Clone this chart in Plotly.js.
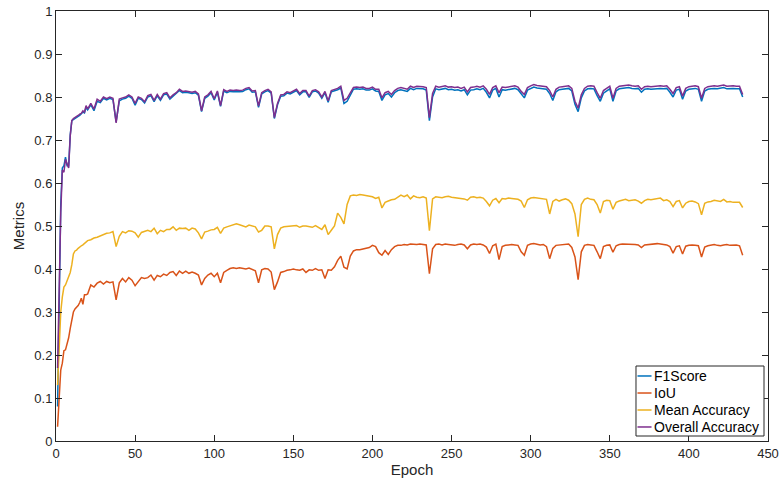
<!DOCTYPE html>
<html>
<head>
<meta charset="utf-8">
<script src="https://cdn.plot.ly/plotly-3.0.1.min.js"></script>
<style>html,body{margin:0;padding:0;background:#fff;}#chart{width:784px;height:486px;}</style>
</head>
<body>
<div id="chart"></div>
<script>
// Epoch indices: every epoch for 1..20, then every second epoch up to 434
const epochs = [];
for (let e = 1; e <= 20; e++) epochs.push(e);
for (let e = 22; e <= 434; e += 2) epochs.push(e);

const f1Score = [
0.08,0.33,0.55,0.635,0.64,0.66,0.64,0.64,0.712,0.745,0.748,0.75,0.753,0.755,0.757,0.76,0.765,0.763,0.776,0.77,
0.782,0.768,0.79,0.787,0.797,0.793,0.797,0.794,0.742,0.791,0.795,0.797,0.802,0.797,0.781,0.797,0.794,0.786,0.8,0.803,
0.789,0.803,0.792,0.805,0.807,0.795,0.802,0.807,0.815,0.81,0.811,0.81,0.808,0.81,0.804,0.766,0.797,0.802,0.81,0.793,
0.811,0.778,0.814,0.81,0.813,0.812,0.813,0.812,0.813,0.817,0.819,0.811,0.812,0.776,0.807,0.812,0.815,0.809,0.75,0.782,
0.802,0.803,0.809,0.807,0.811,0.815,0.805,0.812,0.812,0.799,0.812,0.814,0.809,0.797,0.81,0.788,0.812,0.814,0.817,0.821,
0.785,0.79,0.805,0.818,0.819,0.818,0.819,0.816,0.816,0.819,0.814,0.813,0.792,0.805,0.808,0.8,0.81,0.815,0.817,0.815,
0.813,0.82,0.817,0.82,0.82,0.819,0.816,0.745,0.8,0.819,0.817,0.818,0.82,0.817,0.818,0.816,0.817,0.814,0.817,0.805,
0.816,0.817,0.819,0.817,0.82,0.811,0.798,0.816,0.82,0.8,0.817,0.816,0.817,0.819,0.82,0.817,0.806,0.798,0.816,0.82,
0.823,0.821,0.82,0.819,0.818,0.808,0.792,0.812,0.817,0.818,0.819,0.82,0.814,0.783,0.766,0.798,0.814,0.819,0.82,0.819,
0.803,0.79,0.809,0.814,0.819,0.79,0.814,0.819,0.82,0.821,0.822,0.82,0.819,0.82,0.811,0.818,0.819,0.818,0.819,0.82,
0.82,0.819,0.82,0.811,0.8,0.816,0.818,0.795,0.814,0.818,0.819,0.82,0.818,0.79,0.814,0.818,0.819,0.82,0.819,0.821,
0.822,0.819,0.82,0.82,0.819,0.819,0.8];

const iou = [
0.033,0.1,0.165,0.181,0.21,0.212,0.225,0.24,0.262,0.285,0.3,0.307,0.31,0.315,0.322,0.332,0.318,0.34,0.34,0.342,
0.363,0.358,0.367,0.371,0.365,0.371,0.368,0.37,0.328,0.368,0.378,0.37,0.38,0.374,0.361,0.372,0.38,0.378,0.38,0.386,
0.374,0.385,0.382,0.388,0.385,0.392,0.394,0.385,0.395,0.39,0.395,0.39,0.393,0.39,0.386,0.363,0.378,0.386,0.39,0.382,
0.39,0.368,0.392,0.397,0.401,0.403,0.401,0.403,0.401,0.4,0.402,0.399,0.396,0.368,0.398,0.401,0.4,0.393,0.352,0.37,
0.392,0.394,0.397,0.398,0.4,0.398,0.397,0.4,0.392,0.398,0.397,0.401,0.397,0.398,0.378,0.398,0.397,0.405,0.42,0.43,
0.404,0.4,0.43,0.442,0.445,0.445,0.447,0.449,0.45,0.455,0.452,0.438,0.432,0.443,0.434,0.445,0.452,0.455,0.455,0.457,
0.456,0.458,0.457,0.457,0.458,0.457,0.456,0.389,0.447,0.457,0.458,0.456,0.458,0.457,0.456,0.455,0.457,0.458,0.456,0.447,
0.456,0.458,0.457,0.458,0.456,0.451,0.436,0.454,0.458,0.422,0.452,0.455,0.456,0.457,0.456,0.455,0.44,0.432,0.455,0.458,
0.459,0.458,0.456,0.457,0.452,0.424,0.448,0.455,0.456,0.457,0.457,0.458,0.45,0.428,0.375,0.44,0.455,0.457,0.456,0.455,
0.44,0.424,0.452,0.455,0.456,0.439,0.454,0.457,0.458,0.458,0.457,0.458,0.457,0.456,0.45,0.456,0.457,0.457,0.458,0.459,
0.458,0.457,0.456,0.452,0.437,0.452,0.454,0.435,0.453,0.455,0.456,0.455,0.454,0.428,0.451,0.454,0.456,0.457,0.455,0.454,
0.456,0.457,0.455,0.455,0.456,0.454,0.432];

const meanAccuracy = [
0.13,0.21,0.3,0.335,0.358,0.363,0.372,0.382,0.392,0.41,0.435,0.442,0.444,0.448,0.452,0.454,0.456,0.46,0.463,0.466,
0.468,0.472,0.474,0.477,0.479,0.483,0.484,0.487,0.452,0.476,0.487,0.484,0.489,0.488,0.484,0.474,0.485,0.487,0.49,0.487,
0.495,0.482,0.49,0.487,0.492,0.492,0.498,0.49,0.495,0.494,0.495,0.49,0.495,0.493,0.484,0.47,0.486,0.488,0.491,0.492,
0.497,0.483,0.495,0.498,0.5,0.502,0.505,0.503,0.5,0.498,0.502,0.5,0.498,0.486,0.49,0.5,0.5,0.498,0.447,0.48,
0.495,0.498,0.499,0.5,0.5,0.501,0.497,0.5,0.5,0.498,0.497,0.501,0.497,0.492,0.503,0.48,0.49,0.5,0.53,0.52,
0.505,0.55,0.57,0.572,0.571,0.573,0.572,0.571,0.57,0.568,0.564,0.567,0.542,0.555,0.558,0.561,0.562,0.567,0.572,0.568,
0.572,0.563,0.57,0.567,0.566,0.568,0.565,0.489,0.563,0.568,0.567,0.566,0.568,0.569,0.567,0.566,0.565,0.565,0.563,0.56,
0.567,0.568,0.566,0.567,0.565,0.557,0.547,0.56,0.564,0.554,0.564,0.563,0.565,0.564,0.563,0.562,0.558,0.543,0.561,0.565,
0.566,0.565,0.564,0.563,0.562,0.528,0.557,0.562,0.558,0.561,0.563,0.56,0.552,0.528,0.475,0.55,0.562,0.565,0.562,0.561,
0.55,0.53,0.557,0.56,0.559,0.539,0.555,0.558,0.56,0.562,0.559,0.56,0.561,0.558,0.553,0.559,0.562,0.561,0.562,0.563,
0.565,0.559,0.561,0.557,0.545,0.557,0.559,0.542,0.553,0.557,0.558,0.556,0.552,0.526,0.553,0.556,0.557,0.56,0.558,0.557,
0.562,0.556,0.557,0.555,0.555,0.555,0.543];

const overallAccuracy = [
0.17,0.36,0.53,0.63,0.625,0.655,0.645,0.635,0.71,0.745,0.75,0.752,0.755,0.757,0.76,0.762,0.768,0.765,0.78,0.772,
0.785,0.772,0.795,0.79,0.8,0.796,0.8,0.797,0.74,0.795,0.798,0.8,0.805,0.8,0.785,0.8,0.797,0.789,0.803,0.806,
0.792,0.806,0.795,0.808,0.81,0.798,0.805,0.81,0.818,0.813,0.814,0.813,0.811,0.813,0.807,0.768,0.8,0.805,0.813,0.796,
0.814,0.78,0.817,0.813,0.816,0.815,0.816,0.815,0.816,0.82,0.822,0.814,0.815,0.779,0.81,0.815,0.818,0.812,0.752,0.785,
0.805,0.806,0.812,0.81,0.814,0.818,0.808,0.815,0.815,0.802,0.815,0.817,0.812,0.8,0.813,0.791,0.815,0.817,0.82,0.825,
0.792,0.797,0.81,0.822,0.823,0.822,0.823,0.82,0.82,0.823,0.818,0.818,0.798,0.81,0.813,0.806,0.815,0.82,0.822,0.82,
0.818,0.825,0.822,0.825,0.825,0.824,0.822,0.752,0.808,0.825,0.823,0.824,0.826,0.823,0.824,0.822,0.823,0.82,0.823,0.812,
0.822,0.823,0.825,0.823,0.826,0.818,0.806,0.822,0.826,0.81,0.823,0.822,0.823,0.825,0.826,0.823,0.813,0.806,0.822,0.826,
0.829,0.827,0.826,0.825,0.824,0.815,0.8,0.818,0.823,0.824,0.825,0.826,0.82,0.79,0.774,0.805,0.82,0.825,0.826,0.825,
0.81,0.797,0.815,0.82,0.825,0.797,0.82,0.825,0.826,0.827,0.828,0.826,0.825,0.826,0.818,0.824,0.825,0.824,0.825,0.826,
0.826,0.825,0.826,0.818,0.808,0.822,0.824,0.802,0.82,0.824,0.825,0.826,0.824,0.797,0.82,0.824,0.825,0.826,0.825,0.827,
0.828,0.825,0.826,0.826,0.825,0.825,0.806];

const seriesNames = ['F1Score', 'IoU', 'Mean Accuracy', 'Overall Accuracy'];
const seriesValues = [f1Score, iou, meanAccuracy, overallAccuracy];
const seriesColors = ['#0072BD', '#D95319', '#EDB120', '#7E2F8E'];

const FONT = 'Liberation Sans, Arial, sans-serif';

const traces = seriesValues.map((vals, i) => ({
  type: 'scatter', mode: 'lines', x: epochs, y: vals, name: seriesNames[i],
  line: {color: seriesColors[i], width: 1.5}
}));

// Compact MATLAB-style legend box (paper coordinates)
const legBox = {x0: 0.8146, x1: 0.9944, y0: 0.0116, y1: 0.1744};
const legRowsY = [0.1512, 0.1116, 0.0721, 0.0326];
const shapes = [{
  type: 'rect', xref: 'paper', yref: 'paper',
  x0: legBox.x0, x1: legBox.x1, y0: legBox.y0, y1: legBox.y1,
  line: {color: '#262626', width: 1}, fillcolor: '#ffffff', layer: 'above'
}];
const annotations = [];
seriesNames.forEach((nm, i) => {
  shapes.push({type: 'line', xref: 'paper', yref: 'paper',
    x0: 0.8167, x1: 0.8364, y0: legRowsY[i], y1: legRowsY[i],
    line: {color: seriesColors[i], width: 1.5}, layer: 'above'});
  annotations.push({xref: 'paper', yref: 'paper', x: 0.8365, y: legRowsY[i],
    xanchor: 'left', yanchor: 'middle', showarrow: false, text: nm,
    font: {family: FONT, size: 14, color: '#000000'}});
});

const axisCommon = {
  showgrid: false, zeroline: false, showline: true, mirror: 'ticks',
  linecolor: '#262626', linewidth: 1, ticks: 'inside', ticklen: 6, tickcolor: '#262626',
  tickfont: {family: FONT, size: 13, color: '#262626'}
};

const layout = {
  width: 784, height: 486,
  margin: {l: 56, r: 16, t: 11, b: 45},
  paper_bgcolor: '#ffffff', plot_bgcolor: '#ffffff',
  showlegend: false,
  xaxis: Object.assign({}, axisCommon, {
    range: [0, 450], tickmode: 'linear', tick0: 0, dtick: 50,
    title: {text: 'Epoch', standoff: 4, font: {family: FONT, size: 15, color: '#262626'}}
  }),
  yaxis: Object.assign({}, axisCommon, {
    range: [0, 1], tickmode: 'linear', tick0: 0, dtick: 0.1,
    title: {text: 'Metrics', standoff: 6, font: {family: FONT, size: 15, color: '#262626'}}
  }),
  shapes: shapes,
  annotations: annotations
};

Plotly.newPlot('chart', traces, layout, {displayModeBar: false, staticPlot: true});
</script>
</body>
</html>
